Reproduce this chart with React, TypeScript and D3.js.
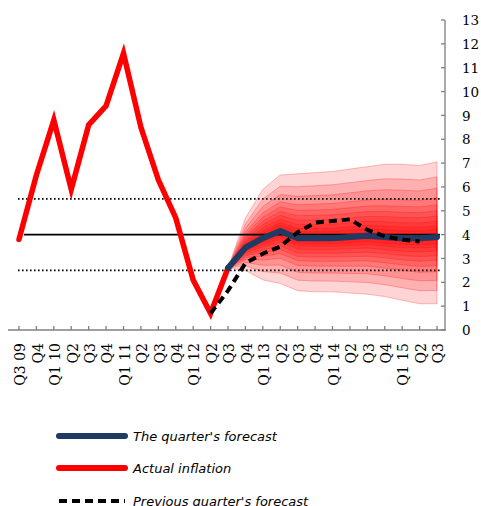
import React from "react";
import * as d3 from "d3";

const quarters = ["Q3 09","Q4","Q1 10","Q2","Q3","Q4","Q1 11","Q2","Q3","Q4","Q1 12","Q2","Q3","Q4","Q1 13","Q2","Q3","Q4","Q1 14","Q2","Q3","Q4","Q1 15","Q2","Q3"];
// indices 0..12
const actual = [3.8, 6.5, 8.8, 5.9, 8.6, 9.4, 11.6, 8.5, 6.3, 4.7, 2.1, 0.7, 2.6];
// indices 12..24
const forecast = [2.6, 3.45, 3.85, 4.15, 3.85, 3.85, 3.85, 3.9, 3.95, 3.9, 3.85, 3.85, 3.9];
// indices 11..23
const previous = [0.7, 1.65, 2.8, 3.2, 3.5, 4.1, 4.5, 4.57, 4.64, 4.2, 3.93, 3.79, 3.71];
// outer fan bounds, indices 12..24
const fanUpper = [2.6, 4.7, 5.9, 6.5, 6.55, 6.6, 6.65, 6.75, 6.85, 6.95, 6.95, 6.9, 7.05];
const fanLower = [2.6, 2.5, 2.1, 1.95, 1.65, 1.6, 1.6, 1.55, 1.5, 1.4, 1.25, 1.1, 1.1];
const fanLevels = [1, 0.8, 0.65, 0.52, 0.43, 0.35, 0.28, 0.21, 0.15, 0.1, 0.05];
const yTicks = [0,1,2,3,4,5,6,7,8,9,10,11,12,13];
const target = 4;
const tolerance = [2.5, 5.5];
const legendItems = ["The quarter's forecast", "Actual inflation", "Previous quarter's forecast"];

export default function App() {
  const W = 481, H = 506;
  const x = d3.scalePoint<number>().domain(d3.range(quarters.length)).range([19, 437]);
  const y = d3.scaleLinear().domain([0, 13]).range([330, 20]);
  const axisX = 445;
  const serif = "'DejaVu Serif', serif";

  const line = d3.line<[number, number]>().x(d => x(d[0])!).y(d => y(d[1]));
  const actualPts: [number, number][] = actual.map((v, i) => [i, v]);
  const forecastPts: [number, number][] = forecast.map((v, i) => [i + 12, v]);
  const prevPts: [number, number][] = previous.map((v, i) => [i + 11, v]);

  const area = d3.area<{ i: number; lo: number; hi: number }>()
    .x(d => x(d.i)!).y0(d => y(d.lo)).y1(d => y(d.hi));

  const bands = fanLevels.map(f =>
    forecast.map((c, k) => ({
      i: k + 12,
      hi: c + f * (fanUpper[k] - c),
      lo: c - f * (c - fanLower[k]),
    }))
  );

  const legendY = [436, 468, 501];
  const legendStyles = [
    { stroke: "#1f3b63", dash: undefined as string | undefined, w: 6 },
    { stroke: "#ff0000", dash: undefined as string | undefined, w: 6 },
    { stroke: "#000000", dash: "8,5", w: 4 },
  ];

  return (
    <svg width={W} height={H} style={{ position: "absolute", left: 0, top: 0, background: "#fff" }}>
      {/* fan */}
      {bands.map((b, j) => (
        <path key={j} d={area(b)!} fill="#ff0000" fillOpacity={0.17} stroke="#ff0000" strokeOpacity={0.25} strokeWidth={1} />
      ))}
      {/* reference lines */}
      <line x1={24} x2={440} y1={y(target)} y2={y(target)} stroke="#000" strokeWidth={1.6} />
      {tolerance.map((t, k) => (
        <line key={k} x1={18} x2={440} y1={y(t)} y2={y(t)} stroke="#000" strokeWidth={1.6} strokeDasharray="1.6,2.4" />
      ))}
      {/* axes */}
      <line x1={8} x2={axisX + 1} y1={330} y2={330} stroke="#7f7f7f" strokeWidth={1.3} />
      {quarters.map((q, i) => (
        <line key={"xt" + i} x1={x(i)!} x2={x(i)!} y1={326} y2={330} stroke="#7f7f7f" strokeWidth={1.3} />
      ))}
      <line x1={axisX} x2={axisX} y1={y(13)} y2={330} stroke="#7f7f7f" strokeWidth={1.3} />
      {yTicks.map(t => (
        <g key={"yt" + t}>
          <line x1={axisX - 4} x2={axisX} y1={y(t)} y2={y(t)} stroke="#7f7f7f" strokeWidth={1.3} />
          <text x={462} y={y(t)} dy="0.38em" fontFamily={serif} fontSize={13.5} fill="#000">{t}</text>
        </g>
      ))}
      {quarters.map((q, i) => (
        <text key={"xl" + i} transform={`translate(${x(i)},343) rotate(-90)`} textAnchor="end" dy="0.45em"
          fontFamily={serif} fontSize={14} fill="#000" style={{ whiteSpace: "pre" }}>{q}</text>
      ))}
      {/* lines */}
      <path d={line(actualPts)!} fill="none" stroke="#ff0000" strokeWidth={5.5} strokeLinejoin="miter" strokeLinecap="round" />
      <path d={line(forecastPts)!} fill="none" stroke="#1f3b63" strokeWidth={6} strokeLinejoin="round" strokeLinecap="round" />
      <path d={line(prevPts)!} fill="none" stroke="#000" strokeWidth={4} strokeDasharray="8,5" strokeLinejoin="round" />
      {/* legend */}
      {legendItems.map((t, k) => (
        <g key={"lg" + k}>
          <line x1={59} x2={125} y1={legendY[k]} y2={legendY[k]} stroke={legendStyles[k].stroke}
            strokeWidth={legendStyles[k].w} strokeDasharray={legendStyles[k].dash} strokeLinecap={k === 2 ? "butt" : "round"} />
          <text x={133} y={legendY[k]} dy="0.35em" fontFamily="'DejaVu Sans', sans-serif" fontStyle="italic" fontSize={13} fill="#000">{t}</text>
        </g>
      ))}
    </svg>
  );
}
